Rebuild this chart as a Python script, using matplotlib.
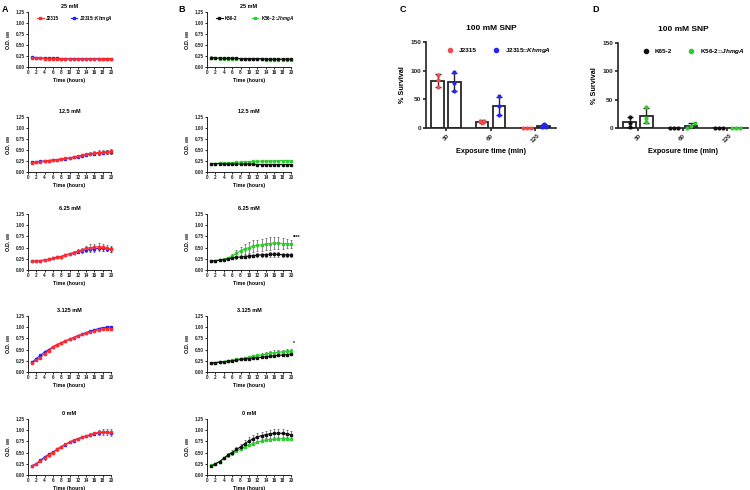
import numpy as np
import matplotlib
matplotlib.use("Agg")
import matplotlib.pyplot as plt
from matplotlib.lines import Line2D

plt.rcParams['font.family'] = ['Liberation Sans', 'DejaVu Sans']
plt.rcParams['font.weight'] = 'bold'
plt.rcParams['axes.labelweight'] = 'bold'
plt.rcParams['axes.titleweight'] = 'bold'
plt.rcParams['mathtext.fontset'] = 'custom'
plt.rcParams['mathtext.rm'] = 'Liberation Sans:bold'
plt.rcParams['mathtext.it'] = 'Liberation Sans:italic:bold'

# ---- growth curves (O.D. 600), hours 1..20 ----
hours = list(range(1, 21))
conc_titles = ["25 mM", "12.5 mM", "6.25 mM", "3.125 mM", "0 mM"]

# panel A : J2315 (red) / J2315::KhmgA (blue)
a_wt_25 = [0.21, 0.20, 0.20, 0.19, 0.19, 0.19, 0.18, 0.18, 0.18, 0.18, 0.18, 0.18, 0.18, 0.18, 0.18, 0.18, 0.18, 0.18, 0.18, 0.18]
a_mut_25 = [0.23, 0.21, 0.21, 0.20, 0.20, 0.20, 0.20, 0.19, 0.19, 0.19, 0.19, 0.19, 0.19, 0.19, 0.19, 0.19, 0.19, 0.19, 0.19, 0.19]
a_wt_12 = [0.21, 0.22, 0.23, 0.24, 0.26, 0.27, 0.28, 0.30, 0.31, 0.32, 0.34, 0.36, 0.38, 0.40, 0.42, 0.43, 0.44, 0.45, 0.46, 0.47]
a_mut_12 = [0.22, 0.23, 0.24, 0.25, 0.26, 0.27, 0.28, 0.29, 0.30, 0.32, 0.33, 0.34, 0.37, 0.39, 0.41, 0.42, 0.43, 0.44, 0.45, 0.46]
a_wt_6 = [0.19, 0.20, 0.21, 0.22, 0.24, 0.26, 0.28, 0.30, 0.33, 0.36, 0.39, 0.42, 0.45, 0.48, 0.50, 0.51, 0.52, 0.51, 0.49, 0.47]
a_mut_6 = [0.19, 0.20, 0.21, 0.22, 0.24, 0.26, 0.28, 0.30, 0.33, 0.36, 0.38, 0.41, 0.43, 0.45, 0.46, 0.47, 0.48, 0.48, 0.47, 0.46]
a_wt_3 = [0.20, 0.26, 0.32, 0.41, 0.47, 0.56, 0.61, 0.65, 0.69, 0.73, 0.77, 0.81, 0.84, 0.86, 0.89, 0.91, 0.94, 0.95, 0.97, 0.97]
a_mut_3 = [0.22, 0.30, 0.37, 0.45, 0.50, 0.56, 0.61, 0.65, 0.69, 0.73, 0.77, 0.81, 0.84, 0.88, 0.91, 0.94, 0.97, 0.99, 1.00, 1.01]
a_wt_0 = [0.20, 0.24, 0.31, 0.38, 0.44, 0.50, 0.57, 0.63, 0.69, 0.73, 0.78, 0.81, 0.84, 0.87, 0.90, 0.93, 0.95, 0.96, 0.96, 0.95]
a_mut_0 = [0.21, 0.25, 0.33, 0.40, 0.46, 0.51, 0.57, 0.63, 0.68, 0.73, 0.77, 0.81, 0.84, 0.87, 0.89, 0.92, 0.94, 0.95, 0.95, 0.94]

a_wt_25_sd = [0.02, 0.01, 0.01, 0.01, 0.01, 0.01, 0.01, 0.01, 0.01, 0.01, 0.01, 0.01, 0.01, 0.01, 0.01, 0.01, 0.01, 0.01, 0.01, 0.01]
a_mut_25_sd = [0.02, 0.01, 0.01, 0.01, 0.01, 0.01, 0.01, 0.01, 0.01, 0.01, 0.01, 0.01, 0.01, 0.01, 0.01, 0.01, 0.01, 0.01, 0.01, 0.01]
a_wt_12_sd = [0.01, 0.01, 0.01, 0.01, 0.01, 0.01, 0.01, 0.01, 0.01, 0.01, 0.02, 0.02, 0.03, 0.04, 0.04, 0.05, 0.05, 0.05, 0.05, 0.05]
a_mut_12_sd = [0.01, 0.01, 0.01, 0.01, 0.01, 0.01, 0.01, 0.01, 0.01, 0.01, 0.01, 0.02, 0.02, 0.03, 0.03, 0.03, 0.04, 0.04, 0.04, 0.04]
a_wt_6_sd = [0.01, 0.01, 0.01, 0.01, 0.01, 0.01, 0.02, 0.02, 0.02, 0.03, 0.03, 0.04, 0.05, 0.06, 0.07, 0.08, 0.08, 0.08, 0.07, 0.07]
a_mut_6_sd = [0.01, 0.01, 0.01, 0.01, 0.01, 0.01, 0.01, 0.02, 0.02, 0.02, 0.03, 0.03, 0.04, 0.05, 0.05, 0.06, 0.06, 0.06, 0.05, 0.05]
a_wt_3_sd = [0.01, 0.01, 0.01, 0.01, 0.01, 0.01, 0.01, 0.01, 0.01, 0.01, 0.01, 0.01, 0.01, 0.02, 0.02, 0.02, 0.02, 0.02, 0.02, 0.02]
a_mut_3_sd = [0.01, 0.01, 0.01, 0.01, 0.01, 0.01, 0.01, 0.01, 0.01, 0.01, 0.01, 0.01, 0.01, 0.01, 0.02, 0.02, 0.02, 0.02, 0.02, 0.02]
a_wt_0_sd = [0.01, 0.02, 0.03, 0.04, 0.04, 0.04, 0.03, 0.02, 0.02, 0.02, 0.02, 0.02, 0.02, 0.02, 0.03, 0.04, 0.05, 0.06, 0.07, 0.07]
a_mut_0_sd = [0.01, 0.01, 0.02, 0.02, 0.02, 0.02, 0.02, 0.02, 0.02, 0.02, 0.02, 0.02, 0.02, 0.02, 0.02, 0.02, 0.02, 0.02, 0.02, 0.02]

# panel B : K56-2 (black) / K56-2::JhmgA (green)
b_wt_25 = [0.21, 0.21, 0.20, 0.20, 0.20, 0.20, 0.20, 0.19, 0.19, 0.19, 0.19, 0.19, 0.19, 0.18, 0.18, 0.18, 0.18, 0.18, 0.18, 0.18]
b_mut_25 = [0.20, 0.20, 0.19, 0.19, 0.19, 0.19, 0.19, 0.18, 0.18, 0.18, 0.18, 0.18, 0.18, 0.17, 0.17, 0.17, 0.17, 0.17, 0.17, 0.17]
b_wt_12 = [0.19, 0.19, 0.19, 0.18, 0.18, 0.18, 0.18, 0.18, 0.18, 0.18, 0.18, 0.17, 0.17, 0.17, 0.17, 0.17, 0.17, 0.17, 0.17, 0.17]
b_mut_12 = [0.19, 0.19, 0.20, 0.20, 0.21, 0.21, 0.22, 0.22, 0.23, 0.23, 0.24, 0.24, 0.25, 0.25, 0.25, 0.25, 0.26, 0.26, 0.26, 0.25]
b_wt_6 = [0.20, 0.21, 0.22, 0.23, 0.25, 0.27, 0.28, 0.29, 0.30, 0.31, 0.32, 0.33, 0.34, 0.34, 0.35, 0.35, 0.35, 0.34, 0.34, 0.33]
b_mut_6 = [0.20, 0.21, 0.22, 0.24, 0.27, 0.31, 0.37, 0.43, 0.47, 0.50, 0.53, 0.55, 0.56, 0.58, 0.59, 0.60, 0.60, 0.59, 0.59, 0.58]
b_wt_3 = [0.20, 0.21, 0.22, 0.23, 0.24, 0.25, 0.26, 0.28, 0.29, 0.30, 0.31, 0.32, 0.33, 0.34, 0.35, 0.36, 0.37, 0.38, 0.39, 0.40]
b_mut_3 = [0.20, 0.21, 0.22, 0.23, 0.25, 0.26, 0.28, 0.30, 0.31, 0.33, 0.35, 0.37, 0.38, 0.40, 0.42, 0.43, 0.44, 0.45, 0.46, 0.46]
b_wt_0 = [0.19, 0.25, 0.30, 0.37, 0.45, 0.50, 0.57, 0.63, 0.70, 0.76, 0.81, 0.85, 0.88, 0.90, 0.92, 0.93, 0.93, 0.93, 0.92, 0.90]
b_mut_0 = [0.22, 0.25, 0.30, 0.37, 0.44, 0.48, 0.53, 0.58, 0.63, 0.67, 0.70, 0.73, 0.76, 0.78, 0.79, 0.80, 0.81, 0.81, 0.81, 0.80]

b_wt_25_sd = [0.03, 0.02, 0.02, 0.01, 0.01, 0.01, 0.01, 0.01, 0.01, 0.01, 0.01, 0.01, 0.01, 0.01, 0.01, 0.01, 0.01, 0.01, 0.01, 0.01]
b_mut_25_sd = [0.02, 0.01, 0.01, 0.01, 0.01, 0.01, 0.01, 0.01, 0.01, 0.01, 0.01, 0.01, 0.01, 0.01, 0.01, 0.01, 0.01, 0.01, 0.01, 0.01]
b_wt_12_sd = [0.01, 0.01, 0.01, 0.01, 0.01, 0.01, 0.01, 0.01, 0.01, 0.01, 0.01, 0.01, 0.01, 0.01, 0.01, 0.01, 0.01, 0.01, 0.01, 0.01]
b_mut_12_sd = [0.01, 0.01, 0.01, 0.01, 0.01, 0.01, 0.01, 0.01, 0.01, 0.02, 0.02, 0.02, 0.02, 0.02, 0.02, 0.02, 0.02, 0.02, 0.02, 0.02]
b_wt_6_sd = [0.01, 0.01, 0.01, 0.01, 0.02, 0.02, 0.03, 0.03, 0.04, 0.04, 0.04, 0.05, 0.05, 0.05, 0.05, 0.05, 0.05, 0.05, 0.05, 0.05]
b_mut_6_sd = [0.01, 0.01, 0.01, 0.02, 0.03, 0.05, 0.07, 0.09, 0.11, 0.12, 0.13, 0.13, 0.14, 0.14, 0.14, 0.14, 0.13, 0.12, 0.11, 0.10]
b_wt_3_sd = [0.01, 0.01, 0.01, 0.01, 0.01, 0.01, 0.01, 0.01, 0.02, 0.02, 0.02, 0.02, 0.02, 0.02, 0.02, 0.02, 0.02, 0.02, 0.02, 0.02]
b_mut_3_sd = [0.01, 0.01, 0.01, 0.01, 0.01, 0.01, 0.02, 0.02, 0.02, 0.03, 0.03, 0.03, 0.04, 0.04, 0.04, 0.05, 0.05, 0.05, 0.05, 0.05]
b_wt_0_sd = [0.01, 0.01, 0.01, 0.02, 0.04, 0.05, 0.06, 0.07, 0.08, 0.08, 0.08, 0.08, 0.08, 0.08, 0.09, 0.09, 0.09, 0.09, 0.08, 0.08]
b_mut_0_sd = [0.01, 0.01, 0.01, 0.02, 0.02, 0.02, 0.02, 0.02, 0.02, 0.02, 0.02, 0.02, 0.02, 0.02, 0.02, 0.02, 0.02, 0.02, 0.02, 0.02]

# ---- survival after 100 mM SNP (%), three replicates ----
exposure = ["30", "60", "120"]
c_j2315 = [[93, 83, 71], [8, 13, 13], [0, 0, 0]]
c_khmga = [[97, 79, 65], [55, 38, 22], [7, 2, 1]]
d_k562 = [[20, 8, 2], [0, 0, 0], [0, 0, 0]]
d_jhmga = [[37, 18, 11], [8, 0, 4], [0, 0, 0]]

RED = '#ff2a2a'
BLUE = '#2323ff'
BLACK = '#111111'
GREEN = '#2fcc2f'
PT_RED = '#f24c4c'


def px_axes(fig, left, top, right, bottom):
    return fig.add_axes([left / 750, 1 - bottom / 490, (right - left) / 750, (bottom - top) / 490])


def style(ax, lw=0.7, tl=1.5, fs=3.3):
    for s in ('top', 'right'):
        ax.spines[s].set_visible(False)
    for s in ('left', 'bottom'):
        ax.spines[s].set_linewidth(lw)
        ax.spines[s].set_color('#222222')
    ax.tick_params(direction='out', length=tl, width=lw, labelsize=fs, pad=1, colors='#222222')


def growth(ax, title, first, second, show_legend, leg_labels, sig=None, colsp=3.2):
    # second series drawn first so the reference strain sits on top
    for ys, sd, col in (second, first):
        ax.errorbar(hours, ys, yerr=sd, color=col, marker='s', markersize=1.8, linewidth=0.8,
                    ecolor='#333333', elinewidth=0.4, capsize=0.8, capthick=0.4, clip_on=False)
    ax.set_xlim(0, 20)
    ax.set_ylim(0, 1.25)
    ax.set_xticks(range(0, 21, 2))
    ax.set_yticks([0, 0.25, 0.5, 0.75, 1.0, 1.25])
    ax.set_yticklabels(['0.00', '0.25', '0.50', '0.75', '1.00', '1.25'])
    style(ax)
    ax.set_title(title, fontsize=4, pad=3)
    ax.set_xlabel('Time (hours)', fontsize=3.8, labelpad=1.5)
    ax.set_ylabel(r'O.D. $_{600}$', fontsize=3.8, labelpad=2)
    if show_legend:
        handles = [Line2D([], [], color=first[2], marker='s', markersize=1.8, linewidth=0.8),
                   Line2D([], [], color=second[2], marker='s', markersize=1.8, linewidth=0.8)]
        ax.legend(handles, leg_labels, loc='upper left', bbox_to_anchor=(0.06, 1.04), ncol=2,
                  frameon=False, fontsize=3.3, handlelength=1.4, handletextpad=0.5, columnspacing=colsp)
    if sig:
        ax.text(20.4, sig[1], sig[0], fontsize=3.5, ha='left', va='center')


def spread(vals, d=0.09, thr=5):
    # simple column-scatter: spread points with nearly equal values sideways
    order = np.argsort(vals)
    clusters, cur = [], [order[0]]
    for i in order[1:]:
        if abs(vals[i] - vals[cur[-1]]) < thr:
            cur.append(i)
        else:
            clusters.append(cur)
            cur = [i]
    clusters.append(cur)
    offs = np.zeros(len(vals))
    for c in clusters:
        n = len(c)
        for k, i in enumerate(c):
            offs[i] = (k - (n - 1) / 2) * d
    return offs


def survival(ax, series, labels, colors, leg_x):
    x = np.arange(len(exposure))
    for off, pts, col in zip((-0.19, 0.19), series, colors):
        means = [np.mean(p) for p in pts]
        sds = [np.std(p, ddof=1) for p in pts]
        ax.bar(x + off, means, width=0.28, facecolor='white', edgecolor='#262626', linewidth=1.3, zorder=2)
        ax.errorbar(x + off, means, yerr=sds, fmt='none', ecolor='#262626', elinewidth=1.0,
                    capsize=2.5, capthick=1.0, zorder=3)
        for xi, p in zip(x + off, pts):
            ax.scatter(xi + spread(p), p, s=9, color=col, zorder=4, clip_on=False, linewidths=0)
    ax.set_xlim(-0.45, 2.47)
    ax.set_ylim(0, 150)
    ax.set_yticks([0, 50, 100, 150])
    ax.set_xticks(x)
    ax.set_xticklabels(exposure, rotation=45, ha='center')
    style(ax, lw=1.2, tl=2.5, fs=4.6)
    ax.set_title('100 mM SNP', fontsize=6, pad=9)
    ax.set_xlabel('Exposure time (min)', fontsize=5.2, labelpad=3)
    ax.set_ylabel('% Survival', fontsize=5.2, labelpad=3)
    handles = [Line2D([], [], color=c, marker='o', markersize=3, linestyle='none') for c in colors]
    ax.legend(handles, labels, loc='upper left', bbox_to_anchor=(leg_x, 1.0), ncol=2, frameon=False,
              fontsize=4.6, handletextpad=0.4, columnspacing=2.0, borderaxespad=0.3)


fig = plt.figure(figsize=(7.5, 4.9), dpi=100)

tops = [12, 117, 214, 316, 419]
bottoms = [67, 172, 270, 372, 475]
a_sets = [(a_wt_25, a_wt_25_sd, a_mut_25, a_mut_25_sd), (a_wt_12, a_wt_12_sd, a_mut_12, a_mut_12_sd),
          (a_wt_6, a_wt_6_sd, a_mut_6, a_mut_6_sd), (a_wt_3, a_wt_3_sd, a_mut_3, a_mut_3_sd),
          (a_wt_0, a_wt_0_sd, a_mut_0, a_mut_0_sd)]
b_sets = [(b_wt_25, b_wt_25_sd, b_mut_25, b_mut_25_sd), (b_wt_12, b_wt_12_sd, b_mut_12, b_mut_12_sd),
          (b_wt_6, b_wt_6_sd, b_mut_6, b_mut_6_sd), (b_wt_3, b_wt_3_sd, b_mut_3, b_mut_3_sd),
          (b_wt_0, b_wt_0_sd, b_mut_0, b_mut_0_sd)]
b_sig = [None, None, ('****', 0.72), ('*', 0.63), None]

for i in range(5):
    axa = px_axes(fig, 28, tops[i], 111, bottoms[i])
    w, wsd, m, msd = a_sets[i]
    growth(axa, conc_titles[i], (w, wsd, RED), (m, msd, BLUE), i == 0,
           ['J2315', r'J2315::$\mathit{KhmgA}$'], colsp=2.6)
    axb = px_axes(fig, 207, tops[i], 291, bottoms[i])
    w, wsd, m, msd = b_sets[i]
    growth(axb, conc_titles[i], (w, wsd, BLACK), (m, msd, GREEN), i == 0,
           ['K56-2', r'K56-2::$\mathit{JhmgA}$'], b_sig[i], colsp=3.2)

axc = px_axes(fig, 426, 42, 556, 128)
survival(axc, (c_j2315, c_khmga), ['J2315', r'J2315::$\mathit{KhmgA}$'], (PT_RED, BLUE), 0.1)
axd = px_axes(fig, 618, 43, 748, 128)
survival(axd, (d_k562, d_jhmga), ['K65-2', r'K56-2::$\mathit{JhmgA}$'], (BLACK, GREEN), 0.13)

for letter, xp, yp in (('A', 2, 9), ('B', 178, 9), ('C', 400, 9), ('D', 592, 9)):
    fig.text(xp / 750, 1 - yp / 490, letter, fontsize=6.5, fontweight='bold', va='center')

fig.savefig('out.png', dpi=100)
